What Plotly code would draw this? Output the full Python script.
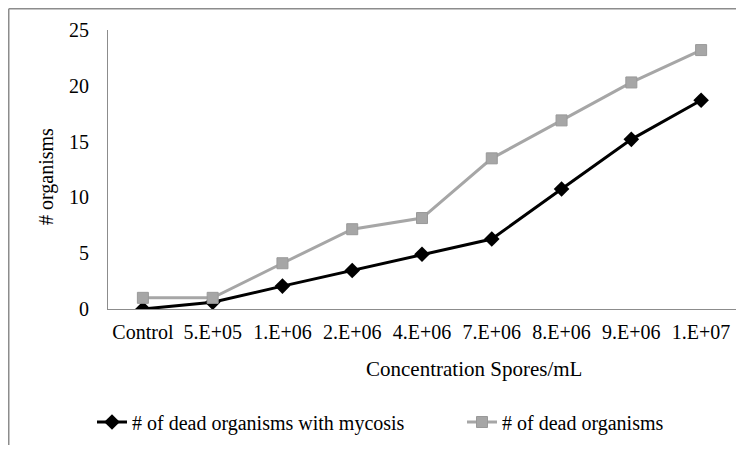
import plotly.graph_objects as go

categories = ["Control", "5.E+05", "1.E+06", "2.E+06", "4.E+06", "7.E+06", "8.E+06", "9.E+06", "1.E+07"]
mycosis = [0, 0.6, 2.05, 3.45, 4.9, 6.27, 10.75, 15.2, 18.7]
dead = [1.0, 1.0, 4.1, 7.15, 8.15, 13.5, 16.9, 20.3, 23.2]
y_ticks = [0, 5, 10, 15, 20, 25]

FONT = "Liberation Serif, Times New Roman, serif"

fig = go.Figure()
fig.add_trace(go.Scatter(
    x=categories, y=mycosis, mode="lines+markers",
    name="# of dead organisms with mycosis", legend="legend",
    line=dict(color="black", width=3),
    marker=dict(symbol="diamond", size=12, color="black"),
))
fig.add_trace(go.Scatter(
    x=categories, y=dead, mode="lines+markers",
    name="# of dead organisms", legend="legend2",
    line=dict(color="#a6a6a6", width=3),
    marker=dict(symbol="square", size=11, color="#a6a6a6", line=dict(color="#999999", width=1)),
))

# figure is drawn inside the page with an 8px body margin
OFF = 8
W, H = 728, 437
L, R, T, B = 100, 0, 22, 136
pw, ph = W - L - R, H - T - B

def px(page_x):
    return (page_x - OFF - L) / pw

def py(page_y):
    return (H - B - (page_y - OFF)) / ph

leg_common = dict(orientation="h", yanchor="middle", xanchor="left", font=dict(size=20),
                  bgcolor="rgba(0,0,0,0)", itemwidth=30)

frame = dict(color="#8c8c8c", width=1.5)

fig.update_layout(
    width=W, height=H,
    margin=dict(l=L, r=R, t=T, b=B, autoexpand=False),
    paper_bgcolor="white", plot_bgcolor="white",
    font=dict(family=FONT, size=20, color="black"),
    xaxis=dict(
        type="category", showgrid=False, showline=True, linecolor="#8c8c8c", linewidth=1,
        ticks="", tickfont=dict(size=20), range=[-0.5, len(categories) - 0.5],
        ticklabelstandoff=5,
    ),
    yaxis=dict(
        range=[0, 25], tickvals=y_ticks, showgrid=False, showline=True, linecolor="#8c8c8c",
        linewidth=1, ticks="", zeroline=False, tickfont=dict(size=20), ticklabelstandoff=14,
    ),
    showlegend=True,
    legend=dict(x=px(92), y=py(422), **leg_common),
    legend2=dict(x=px(462), y=py(422), **leg_common),
    shapes=[
        dict(type="line", xref="paper", yref="paper", x0=px(8.75), y0=py(8.75), x1=1.2, y1=py(8.75),
             line=frame, layer="below"),
        dict(type="line", xref="paper", yref="paper", x0=px(8.75), y0=py(8.75), x1=px(8.75), y1=-1,
             line=frame, layer="below"),
    ],
    annotations=[
        dict(text="Concentration Spores/mL", xref="paper", yref="paper", x=px(474), y=py(369),
             showarrow=False, xanchor="center", yanchor="middle", font=dict(size=21)),
        dict(text="# organisms", xref="paper", yref="paper", x=px(46), y=py(176), textangle=-90,
             showarrow=False, xanchor="center", yanchor="middle", font=dict(size=20)),
    ],
)

fig.write_html("out.html")
